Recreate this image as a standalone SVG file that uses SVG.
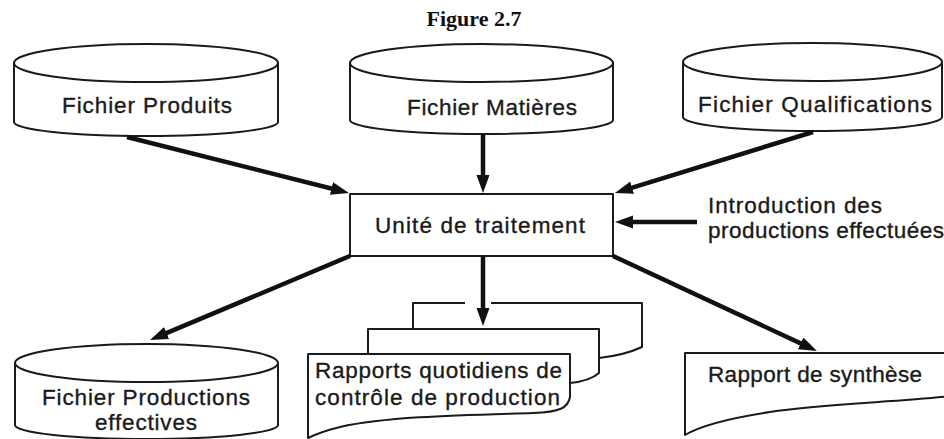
<svg xmlns="http://www.w3.org/2000/svg" width="944" height="439" viewBox="0 0 944 439">
<style>
.sh{fill:#fff;stroke:#1a1a1a;stroke-width:2;stroke-linejoin:round}
.ln{fill:none;stroke:#1a1a1a;stroke-width:2;stroke-linejoin:round}
.t{font-family:"Liberation Sans",Arial,sans-serif;font-size:22.5px;fill:#1a1a1a;stroke:#1a1a1a;stroke-width:0.35}
.ar{fill:none;stroke:#111;stroke-width:4.5}
</style>
<defs>
<marker id="ah" markerUnits="userSpaceOnUse" markerWidth="20" markerHeight="14" refX="10" refY="6.5" orient="auto">
<path d="M0,0 L18,6.5 L0,13 z" fill="#111"/>
</marker>
</defs>
<rect width="944" height="439" fill="#fff"/>
<text x="474" y="26" text-anchor="middle" font-family="Liberation Serif,Times New Roman,serif" font-weight="bold" font-size="22" fill="#111">Figure 2.7</text>

<g id="fichier-produits">
<path class="sh" d="M14,63 V122 A132,14 0 0 0 278,122 V63"/>
<ellipse class="sh" cx="146" cy="63" rx="132" ry="19"/>
<text class="t" x="62" y="113" textLength="170" lengthAdjust="spacing">Fichier Produits</text>
</g>
<g id="fichier-matieres">
<path class="sh" d="M350,63 V120 A131.5,14 0 0 0 613,120 V63"/>
<ellipse class="sh" cx="481.5" cy="63" rx="131.5" ry="19"/>
<text class="t" x="407" y="115" textLength="170" lengthAdjust="spacing">Fichier Matières</text>
</g>
<g id="fichier-qualifications">
<path class="sh" d="M683,62 V117 A129.5,14 0 0 0 942,117 V62"/>
<ellipse class="sh" cx="812.5" cy="62" rx="129.5" ry="19"/>
<text class="t" x="698" y="112" textLength="234" lengthAdjust="spacing">Fichier Qualifications</text>
</g>
<g id="unite-traitement">
<rect class="sh" x="350" y="194" width="263" height="62"/>
<text class="t" x="375" y="233" textLength="210" lengthAdjust="spacing">Unité de traitement</text>
</g>
<g id="introduction">
<text class="t" x="708" y="213" textLength="174" lengthAdjust="spacing">Introduction des</text>
<text class="t" x="708" y="238" textLength="236" lengthAdjust="spacing">productions effectuées</text>
</g>
<g id="fichier-productions">
<path class="sh" d="M15,363 V425 A131.5,14 0 0 0 278,425 V363"/>
<ellipse class="sh" cx="146.5" cy="363" rx="131.5" ry="19"/>
<text class="t" x="42" y="405" textLength="208" lengthAdjust="spacing">Fichier Productions</text>
<text class="t" x="95" y="430" textLength="102" lengthAdjust="spacing">effectives</text>
</g>
<g id="rapports-quotidiens">
<path class="ln" d="M413,329 V303 H465 M491,303 H642 V347 Q625,355 599,358"/>
<path class="ln" d="M368,354 V329 H599 V373 Q590,381 570,383"/>
<path class="sh" d="M308,354 H570 V397 C568,408 560,412 533,413 C470,415 390,416 340,427 Q320,432 308,438 Z"/>
<text class="t" x="315" y="378" textLength="247" lengthAdjust="spacing">Rapports quotidiens de</text>
<text class="t" x="315" y="405" textLength="245" lengthAdjust="spacing">contrôle de production</text>
</g>
<g id="rapport-synthese">
<path class="sh" d="M685,353 H952 V396 C900,402 820,404 770,412 C730,418 700,426 685,435 Z"/>
<text class="t" x="708" y="382" textLength="214" lengthAdjust="spacing">Rapport de synthèse</text>
</g>

<g id="connectors">
<line class="ar" x1="127" y1="137" x2="341.2" y2="191" marker-end="url(#ah)"/>
<line class="ar" x1="483" y1="134" x2="483" y2="185" marker-end="url(#ah)"/>
<line class="ar" x1="813" y1="132" x2="622.6" y2="190.6" marker-end="url(#ah)"/>
<line class="ar" x1="697" y1="222" x2="623" y2="222" marker-end="url(#ah)"/>
<line class="ar" x1="350" y1="256" x2="157.4" y2="336.9" marker-end="url(#ah)"/>
<line class="ar" x1="483" y1="256" x2="483" y2="318" marker-end="url(#ah)"/>
<line class="ar" x1="613" y1="256" x2="809.7" y2="347.6" marker-end="url(#ah)"/>
</g>
</svg>
